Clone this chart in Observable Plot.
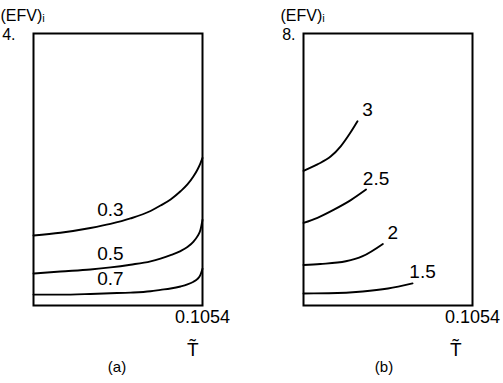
<!DOCTYPE html>
<html>
<head>
<meta charset="utf-8">
<script src="https://cdn.jsdelivr.net/npm/d3@7"></script>
<script src="https://cdn.jsdelivr.net/npm/@observablehq/plot@0.6"></script>
<style>
  html, body { margin: 0; padding: 0; background: #fff; }
  #wrap { display: flex; width: 503px; height: 383px; }
</style>
</head>
<body>
<div id="wrap"></div>
<script>
// ---------- Panel (a) data ----------
const tA = [0, 0.0168, 0.0355, 0.0480, 0.0605, 0.0730, 0.0792, 0.0855, 0.0917, 0.0960, 0.0998, 0.1023, 0.1041, 0.1054];
const seriesA = ["0.3", "0.5", "0.7"];
const efvA03 = [1.03, 1.07, 1.14, 1.20, 1.28, 1.39, 1.47, 1.56, 1.68, 1.78, 1.90, 2.00, 2.09, 2.17];
const efvA05 = [0.47, 0.50, 0.53, 0.56, 0.60, 0.65, 0.69, 0.74, 0.80, 0.86, 0.94, 1.02, 1.11, 1.26];
const efvA07 = [0.16, 0.16, 0.17, 0.18, 0.19, 0.21, 0.23, 0.25, 0.28, 0.31, 0.35, 0.39, 0.45, 0.54];
const labelTA = 0.0480;
const yDomainA = [0, 4];
const yTicksA = [4];

// ---------- Panel (b) data ----------
const seriesB = ["3", "2.5", "2", "1.5"];
const tB3 = [0, 0.0087, 0.0169, 0.0232, 0.0295, 0.0337];
const efvB3 = [3.96, 4.15, 4.38, 4.68, 5.10, 5.42];
const tB25 = [0, 0.0087, 0.0190, 0.0295, 0.0390];
const efvB25 = [2.43, 2.58, 2.82, 3.10, 3.41];
const tB2 = [0, 0.0105, 0.0264, 0.0369, 0.0495];
const efvB2 = [1.19, 1.22, 1.30, 1.45, 1.81];
const tB15 = [0, 0.0158, 0.0369, 0.0527, 0.0680];
const efvB15 = [0.355, 0.36, 0.41, 0.50, 0.65];
const yDomainB = [0, 8];
const yTicksB = [8];

const xDomain = [0, 0.1054];
const xTicks = [0.1054];
const yLabel = "(EFV)ᵢ";
const xLabel = "T̃";
const panelTitles = ["(a)", "(b)"];

// ---------- tidy tables ----------
const dataA = [];
[efvA03, efvA05, efvA07].forEach((arr, s) => arr.forEach((v, i) => dataA.push({series: seriesA[s], x: tA[i], y: v})));
const dataB = [];
[[tB3, efvB3], [tB25, efvB25], [tB2, efvB2], [tB15, efvB15]].forEach(([xs, ys], s) =>
  xs.forEach((x, i) => dataB.push({series: seriesB[s], x, y: ys[i]})));

const font = "'Liberation Sans', Arial, sans-serif";

function panel({data, width, marginLeft, marginRight, yDomain, yTicks, yTickPadding, labelMark, yLabelDx, xLabelDx, title, titleDx}) {
  return Plot.plot({
    width, height: 383,
    marginLeft, marginRight, marginTop: 33, marginBottom: 78,
    style: {fontFamily: font, fontSize: "18px", background: "#fff", color: "#000"},
    x: {domain: xDomain},
    y: {domain: yDomain},
    marks: [
      Plot.frame({stroke: "#000", strokeWidth: 2}),
      Plot.line(data, {x: "x", y: "y", z: "series", curve: "monotone-x", stroke: "#000", strokeWidth: 1.9}),
      labelMark,
      Plot.axisY({ticks: yTicks, tickFormat: d => d + ".", tickSize: 0, tickPadding: yTickPadding, label: null, fontSize: 16, dy: 1}),
      Plot.axisX({ticks: xTicks, tickFormat: d => String(d), tickSize: 0, tickPadding: 5, label: null, fontSize: 18}),
      Plot.text([yLabel], {frameAnchor: "top-left", textAnchor: "start", dx: yLabelDx, dy: -24, fontSize: 16}),
      Plot.text([xLabel], {frameAnchor: "bottom-right", dx: xLabelDx, dy: 50, fontSize: 19}),
      Plot.text([title], {frameAnchor: "bottom", dx: titleDx, dy: 66, fontSize: 15})
    ]
  });
}

const plotA = panel({
  data: dataA, width: 251, marginLeft: 33, marginRight: 49,
  yDomain: yDomainA, yTicks: yTicksA, yTickPadding: 18,
  labelMark: Plot.text(dataA.filter(d => d.x === labelTA), {x: "x", y: "y", text: "series", dy: -14, fontSize: 19}),
  yLabelDx: -33, xLabelDx: -4, title: panelTitles[0], titleDx: -1
});

const plotB = panel({
  data: dataB, width: 252, marginLeft: 52, marginRight: 31,
  yDomain: yDomainB, yTicks: yTicksB, yTickPadding: 8,
  labelMark: Plot.text(dataB, Plot.selectLast({x: "x", y: "y", z: "series", text: "series", dx: 10, dy: -11, fontSize: 19})),
  yLabelDx: -23, xLabelDx: -11, title: panelTitles[1], titleDx: -4
});

document.getElementById("wrap").append(plotA, plotB);
</script>
</body>
</html>
